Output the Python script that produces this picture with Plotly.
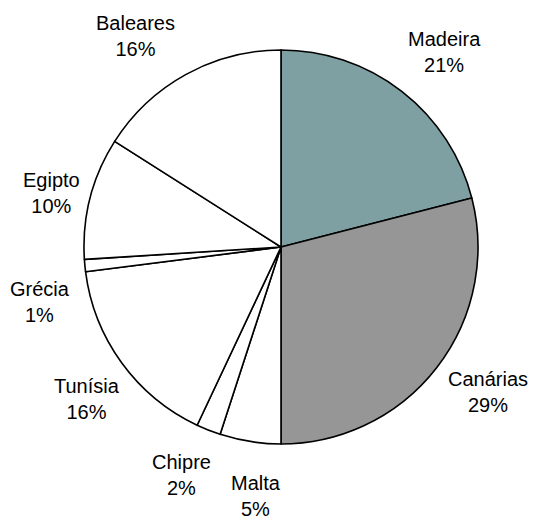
import math
import plotly.graph_objects as go

# Share of destinations (%), clockwise from 12 o'clock
destinos = ["Madeira", "Canárias", "Malta", "Chipre", "Tunísia", "Grécia", "Egipto", "Baleares"]
percentagens = [21, 29, 5, 2, 16, 1, 10, 16]
cores = ["#7FA0A2", "#969696", "#FFFFFF", "#FFFFFF", "#FFFFFF", "#FFFFFF", "#FFFFFF", "#FFFFFF"]

W, H = 534, 520
cx, cy, R = 281, 247, 197  # pie centre and radius in px
label_r = 1.27 * R
# small per-label nudges (px) so labels clear neighbouring slices
nudges = [(10, 3), (9, -8), (14, 2), (-7, -5), (8, 5), (8, 31), (13, 8), (-25, 8)]

fig = go.Figure(go.Pie(
    labels=destinos,
    values=percentagens,
    sort=False,
    direction="clockwise",
    rotation=0,
    marker=dict(colors=cores, line=dict(color="black", width=1.6)),
    textinfo="none",
    hoverinfo="label+percent",
    showlegend=False,
    domain=dict(x=[(cx - R) / W, (cx + R) / W], y=[1 - (cy + R) / H, 1 - (cy - R) / H]),
))

# Labels placed outside each slice along its mid-angle
total = sum(percentagens)
acum = 0
annotations = []
for nome, v, (dx, dy) in zip(destinos, percentagens, nudges):
    mid = (acum + v / 2) / total * 2 * math.pi
    acum += v
    px = cx + label_r * math.sin(mid) + dx
    py = cy - label_r * math.cos(mid) + dy
    annotations.append(dict(
        x=px / W, y=1 - py / H, xref="paper", yref="paper",
        text=f"{nome}<br>{round(v / total * 100)}%",
        showarrow=False, xanchor="center", yanchor="middle",
        font=dict(family="Liberation Sans, Arial, sans-serif", size=20, color="black"),
        align="center",
    ))

fig.update_layout(
    width=W, height=H,
    margin=dict(l=0, r=0, t=0, b=0),
    paper_bgcolor="white",
    plot_bgcolor="white",
    annotations=annotations,
)

fig.write_html("out.html")
